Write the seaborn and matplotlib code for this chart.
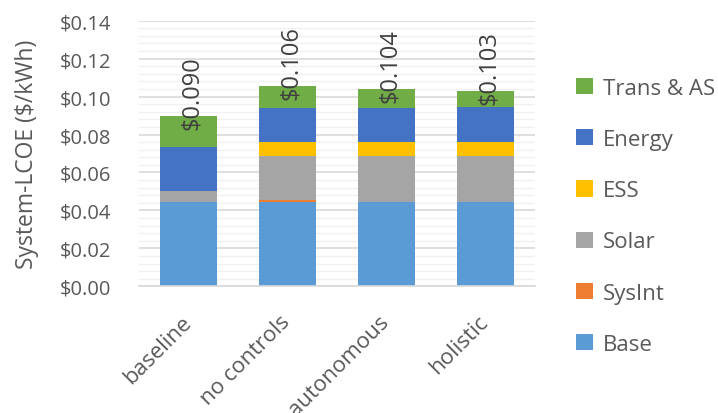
"""System-LCOE stacked bars by control strategy"""
import numpy as np
import matplotlib
matplotlib.use("Agg")
import matplotlib.pyplot as plt
import matplotlib.transforms as mtransforms
import seaborn as sns
from matplotlib.ticker import MultipleLocator, FuncFormatter


### Data
categories = ["baseline", "no controls", "autonomous", "holistic"]

base = [0.0443, 0.0443, 0.0443, 0.0443]
sysint = [0.0, 0.0010, 0.0, 0.0]
solar = [0.0059, 0.0234, 0.0244, 0.0244]
ess = [0.0, 0.0074, 0.0074, 0.0074]
energy = [0.0232, 0.0177, 0.0177, 0.0184]
trans_as = [0.0162, 0.0118, 0.0100, 0.0086]

layer_names = ["Base", "SysInt", "Solar", "ESS", "Energy", "Trans & AS"]
layer_colors = ["#5B9BD5", "#ED7D31", "#A5A5A5", "#FFC000", "#4472C4", "#70AD47"]

TEXT = "#595959"

sns.set_theme(style="white")
plt.rcParams["font.family"] = ["Open Sans", "DejaVu Sans"]

fig = plt.figure(figsize=(7.18, 4.14), dpi=100)
ax = fig.add_axes([0.1936, 0.306, 0.745 - 0.1936, 0.9476 - 0.306])

layers = [base, sysint, solar, ess, energy, trans_as]
bottom = np.zeros(len(categories))
for name, vals, col in zip(layer_names, layers, layer_colors):
    sns.barplot(x=categories, y=vals, bottom=bottom, color=col, width=0.575,
                label=name, errorbar=None, ax=ax, saturation=1, linewidth=0)
    bottom = bottom + np.array(vals)

totals = bottom

# total labels, rotated; pushed down so they stay inside the plot
for i, tot in enumerate(totals):
    y0 = min(tot - 0.0068, 0.1022)
    ax.text(i + 0.035, y0, f"${tot:.3f}", rotation=90, ha="center", va="bottom",
            fontsize=17, color="#404040")

ax.set_ylim(0, 0.14)
ax.set_xlim(-0.5, 3.5)
ax.yaxis.set_major_locator(MultipleLocator(0.02))
ax.yaxis.set_minor_locator(MultipleLocator(0.004))
ax.yaxis.set_major_formatter(FuncFormatter(lambda v, p: f"${v:.2f}"))
ax.grid(axis="y", which="major", color="#D9D9D9", linewidth=1.2)
ax.grid(axis="y", which="minor", color="#F0F0F0", linewidth=1.0)
ax.set_axisbelow(True)

for s in ["top", "right", "left"]:
    ax.spines[s].set_visible(False)
ax.spines["bottom"].set_color("#D9D9D9")
ax.spines["bottom"].set_linewidth(1.2)

ax.tick_params(axis="both", which="both", length=0, labelcolor=TEXT)
ax.tick_params(axis="y", labelsize=14.5, pad=20)
ax.tick_params(axis="x", labelsize=16, pad=18)
shift = mtransforms.ScaledTranslation(-8 / 100, 0, fig.dpi_scale_trans)
for lbl in ax.get_xticklabels():
    lbl.set_rotation(45)
    lbl.set_ha("right")
    lbl.set_rotation_mode("anchor")
    lbl.set_transform(lbl.get_transform() + shift)

ax.set_xlabel("")
ax.set_ylabel("System-LCOE ($/kWh)", fontsize=16.5, color=TEXT, labelpad=15)

handles, labels = ax.get_legend_handles_labels()
leg = fig.legend(handles[::-1], labels[::-1], loc="center left",
                 bbox_to_anchor=(0.802, 0.475), frameon=False, fontsize=16,
                 handlelength=0.75, handleheight=0.75, handletextpad=0.45,
                 labelspacing=1.36, borderpad=0, borderaxespad=0)
for t in leg.get_texts():
    t.set_color(TEXT)
if ax.get_legend() is not None:
    ax.get_legend().remove()

fig.savefig("out.png", dpi=100)
